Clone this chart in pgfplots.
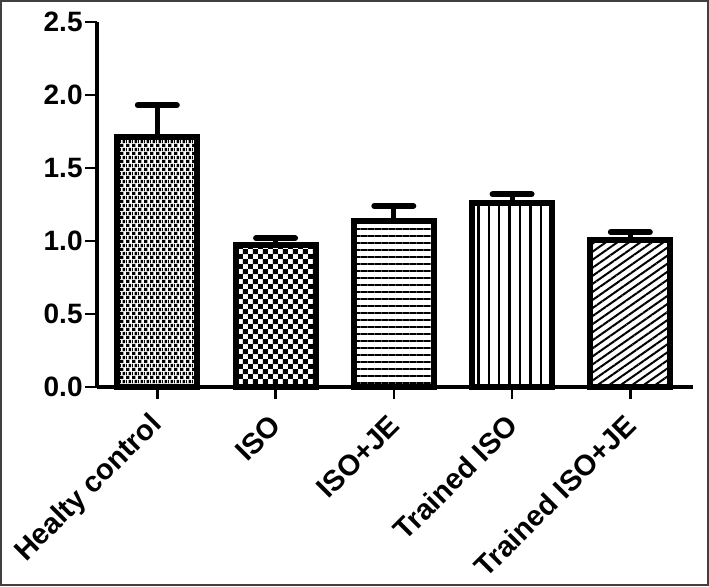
\documentclass[border=0pt]{standalone}
\usepackage{fontspec}
\setmainfont{Liberation Sans}
\usepackage{pgfplots}
\pgfplotsset{compat=1.18}
\usetikzlibrary{patterns,patterns.meta}

\tikzdeclarepattern{
  name=bricks, type=uncolored,
  bottom left={(0pt,0pt)}, top right={(3pt,4pt)}, tile size={(3pt,4pt)},
  code={
    \fill (0pt,0pt) rectangle (2pt,1.5pt);
    \fill (1.5pt,2pt) rectangle (3pt,3.5pt);
    \fill (0pt,2pt) rectangle (0.5pt,3.5pt);
  }
}
\tikzdeclarepattern{
  name=checks, type=uncolored,
  bottom left={(0pt,0pt)}, top right={(5.2pt,5.2pt)}, tile size={(5.2pt,5.2pt)},
  code={
    \fill (0pt,0pt) rectangle (2.6pt,2.6pt);
    \fill (2.6pt,2.6pt) rectangle (5.2pt,5.2pt);
  }
}

\begin{document}
\begin{tikzpicture}
\useasboundingbox (0,0) rectangle (354.5pt,293pt);
\draw[line width=1pt, black!75] (0.5pt,0.5pt) rectangle (354pt,292.5pt);
\begin{axis}[
  at={(48.5pt,99.5pt)}, anchor=south west,
  scale only axis, width=298pt, height=182.5pt,
  xmin=-0.51, xmax=4.53, ymin=0, ymax=2.5,
  axis x line=bottom, axis y line=left,
  axis line style={-, line width=2pt},
  xtick={0,1,2,3,4},
  xticklabels={Healty control, ISO, ISO+JE, Trained ISO, Trained ISO+JE},
  ytick={0,0.5,1,1.5,2,2.5},
  /pgf/number format/fixed, /pgf/number format/fixed zerofill,
  /pgf/number format/precision=1, /pgf/number format/assume math mode=true,
  ticklabel style={font=\fontsize{14pt}{16pt}\selectfont\bfseries},
  xticklabel style={rotate=45, anchor=east, font=\fontsize{14.5pt}{16pt}\selectfont\bfseries, inner sep=1pt, yshift=-7.7pt, xshift=-6.3pt},
  yticklabel style={inner sep=1pt},
  tick align=outside, major tick length=6pt,
  tick style={line width=1.2pt, black},
  clip=false,
  mybar/.style={ybar, bar width=40pt, bar shift=0pt, draw=black, line width=3pt,
    error bars/y dir=plus, error bars/y explicit,
    error bars/error bar style={line width=2.5pt, black},
    error bars/error mark options={rotate=90, line width=3pt, mark size=9.75pt, line cap=round, black}},
]
\addplot[mybar, pattern=bricks, pattern color=black] coordinates {(0,1.71) +- (0,0.22)};
\addplot[mybar, pattern=checks, pattern color=black] coordinates {(1,0.97) +- (0,0.05)};
\addplot[mybar, pattern={Lines[angle=0,distance=3.5pt,line width=1pt]}, pattern color=black] coordinates {(2,1.14) +- (0,0.10)};
\addplot[mybar, pattern={Lines[angle=90,distance=5.2pt,line width=1.2pt]}, pattern color=black] coordinates {(3,1.26) +- (0,0.06)};
\addplot[mybar, pattern={Lines[angle=35,distance=3.3pt,line width=1pt]}, pattern color=black] coordinates {(4,1.01) +- (0,0.05)};
\end{axis}
\end{tikzpicture}
\end{document}
